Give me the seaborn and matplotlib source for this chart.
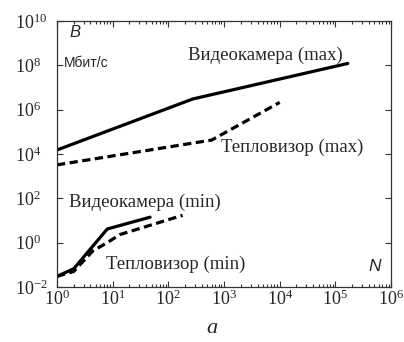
import matplotlib
matplotlib.use("Agg")
import matplotlib.pyplot as plt
import matplotlib.ticker as mticker
import pandas as pd
import seaborn as sns

# значения (N — число устройств, B — Мбит/с)
video_max_n = [1, 275, 1.67e5]
video_max_b = [1.5e4, 3.0e6, 1.2e8]
thermal_max_n = [1, 600, 1.0e4]
thermal_max_b = [3.2e3, 4.2e4, 2.1e6]
video_min_n = [1, 2, 8, 47]
video_min_b = [0.03, 0.066, 4.1, 14]
thermal_min_n = [1, 2, 4.4, 8, 13.5, 180]
thermal_min_b = [0.03, 0.05, 0.42, 1.0, 2.3, 17]

x_ticks = [1e0, 1e1, 1e2, 1e3, 1e4, 1e5, 1e6]
y_ticks = [1e-2, 1e0, 1e2, 1e4, 1e6, 1e8, 1e10]


def kusok(n, b, name, kind):
    return pd.DataFrame({"N": n, "B": b, "series": name, "kind": kind})


df = pd.concat([
    kusok(video_max_n, video_max_b, "vmax", "video"),
    kusok(thermal_max_n, thermal_max_b, "tmax", "thermal"),
    kusok(video_min_n, video_min_b, "vmin", "video"),
    kusok(thermal_min_n, thermal_min_b, "tmin", "thermal"),
], ignore_index=True)

sns.set_style("ticks")
plt.rcParams["font.family"] = ["Liberation Serif", "DejaVu Serif"]
plt.rcParams["mathtext.fontset"] = "custom"
plt.rcParams["mathtext.rm"] = "Liberation Serif"
plt.rcParams["mathtext.it"] = "Liberation Serif:italic"
plt.rcParams["axes.unicode_minus"] = False

fig = plt.figure(figsize=(4.04, 3.42), dpi=100)
ax = fig.add_axes([0.141, 0.161, 0.827, 0.778])

sns.lineplot(df, x="N", y="B", style="kind", units="series", estimator=None,
             sort=False, color="black", linewidth=2.3, legend=False,
             dashes={"video": "", "thermal": (2.6, 1.4)}, ax=ax)

ax.set_xscale("log")
ax.set_yscale("log")
ax.set_xlim(1, 1e6)
ax.set_ylim(1e-2, 1e10)
ax.set_xticks(x_ticks)
ax.set_yticks(y_ticks)
ax.xaxis.set_major_formatter(mticker.LogFormatterMathtext())
ax.yaxis.set_major_formatter(mticker.LogFormatterMathtext())
ax.xaxis.set_minor_locator(mticker.LogLocator(base=10, subs=range(2, 10), numticks=20))
ax.yaxis.set_minor_locator(mticker.NullLocator())
ax.tick_params(which="both", direction="in", top=True, right=True,
               labelsize=13, color="#333333", width=0.8)
ax.tick_params(which="major", length=4)
ax.tick_params(which="minor", length=2.5)
ax.tick_params(axis="x", pad=2)
ax.tick_params(axis="y", pad=30)
for lab in ax.get_yticklabels():
    lab.set_horizontalalignment("left")
ax.set_xlabel("")
ax.set_ylabel("")
for s in ax.spines.values():
    s.set_linewidth(0.9)
    s.set_color("#333333")

sans = ["Liberation Sans", "DejaVu Sans"]
ax.text(2.1, 3.1e9, "B", style="italic", fontsize=12, family=sans, ha="center", va="center")
ax.text(3.4, 1.2e8, "Мбит/с", fontsize=10, family=sans, ha="center", va="center")
ax.text(5.6e3, 2.8e8, "Видеокамера (max)", fontsize=13.5, ha="center", va="center")
ax.text(1.66e4, 2e4, "Тепловизор (max)", fontsize=13.5, ha="center", va="center")
ax.text(38, 68, "Видеокамера (min)", fontsize=13.5, ha="center", va="center")
ax.text(137, 0.1, "Тепловизор (min)", fontsize=13.5, ha="center", va="center")
ax.text(5.1e5, 0.08, "N", style="italic", fontsize=12.5, family=sans, ha="center", va="center")
fig.text(0.525, 0.04, "a", style="italic", fontsize=16, ha="center", va="center")

fig.savefig("out.png", dpi=100)
